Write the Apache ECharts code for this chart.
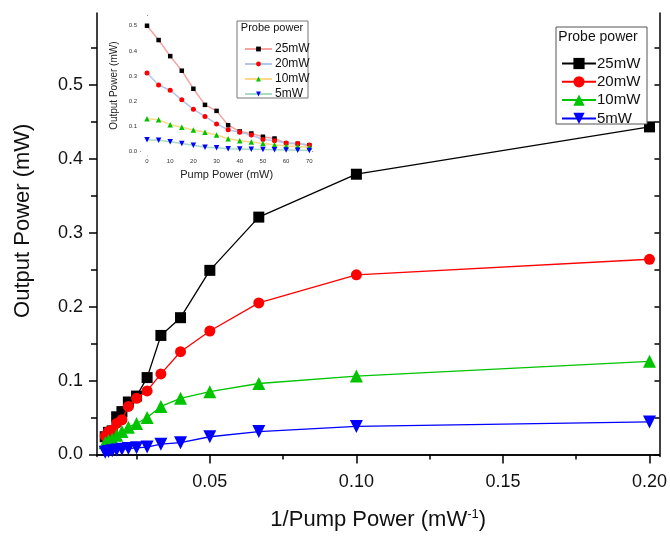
<!DOCTYPE html>
<html>
<head>
<meta charset="utf-8">
<script src="https://cdn.jsdelivr.net/npm/echarts@6/dist/echarts.min.js"></script>
<style>
  html, body { margin: 0; padding: 0; background: #fff; }
  #chart { width: 670px; height: 536px; }
</style>
</head>
<body>
<div id="chart"></div>
<script>
// Pump power settings (mW) and the matching inverse pump power (mW^-1) for P = 5..70
const pumpPower = [0, 5, 10, 15, 20, 25, 30, 35, 40, 45, 50, 55, 60, 65, 70];
const invPump = [0.2, 0.1, 0.0667, 0.05, 0.04, 0.0333, 0.0286, 0.025, 0.0222, 0.02, 0.0182, 0.0167, 0.0154, 0.0143];

// Output power (mW) at each pump power, one array per probe power
const out25 = [0.500, 0.443, 0.379, 0.321, 0.249, 0.185, 0.161, 0.104, 0.079, 0.071, 0.058, 0.051, 0.032, 0.030, 0.024];
const out20 = [0.312, 0.264, 0.243, 0.205, 0.167, 0.139, 0.109, 0.086, 0.076, 0.065, 0.047, 0.042, 0.033, 0.031, 0.025];
const out10 = [0.130, 0.126, 0.106, 0.096, 0.085, 0.076, 0.065, 0.050, 0.042, 0.037, 0.031, 0.026, 0.021, 0.019, 0.016];
const out5  = [0.046, 0.044, 0.038, 0.031, 0.024, 0.016, 0.014, 0.010, 0.009, 0.008, 0.007, 0.006, 0.005, 0.004, 0.003];

const probeNames = ['25mW', '20mW', '10mW', '5mW'];
const xMajor = [0.05, 0.10, 0.15, 0.20];
const xMinor = [0.025, 0.075, 0.125, 0.175];
const yMajor = [0.0, 0.1, 0.2, 0.3, 0.4, 0.5];
const yMinor = [0.05, 0.15, 0.25, 0.35, 0.45, 0.55];
const insetXTicks = [0, 5, 10, 15, 20, 25, 30, 35, 40, 45, 50, 55, 60, 65, 70];
const insetXLabels = [0, 10, 20, 30, 40, 50, 60, 70];
const insetYTicks = [0, 0.05, 0.1, 0.15, 0.2, 0.25, 0.3, 0.35, 0.4, 0.45, 0.5];
const insetYLabels = [0, 0.1, 0.2, 0.3, 0.4, 0.5];

const FONT = 'Liberation Sans, Arial, sans-serif';
const outputs = [out25, out20, out10, out5];
const markColors = ['#000000', '#ff0000', '#00c400', '#0000ff'];
const insetLineColors = ['#f5a3a3', '#b3c6ea', '#fdd78c', '#a6dcc6'];
const symbols = ['rect', 'circle', 'triangle', 'triangle'];
const rotations = [0, 0, 0, 180];
const mainSizes = [11, 11, 13, 13];
const insetSizes = [4.5, 5, 5.5, 5.5];

const chart = echarts.init(document.getElementById('chart'), null, { renderer: 'canvas' });

const series = [];
// Main plot: output power against inverse pump power (P = 5..70 mW)
probeNames.forEach((name, k) => {
  series.push({
    name: name,
    type: 'line',
    xAxisIndex: 0,
    yAxisIndex: 0,
    data: invPump.map((x, i) => [x, outputs[k][i + 1]]),
    symbol: symbols[k],
    symbolRotate: rotations[k],
    symbolSize: mainSizes[k],
    lineStyle: { color: markColors[k], width: 1.3 },
    itemStyle: { color: markColors[k] },
    z: 3 + k
  });
});
// Inset: the same measurements against pump power
probeNames.forEach((name, k) => {
  series.push({
    name: 'inset ' + name,
    type: 'line',
    xAxisIndex: 3,
    yAxisIndex: 3,
    data: pumpPower.map((p, i) => [p, outputs[k][i]]),
    symbol: symbols[k],
    symbolRotate: rotations[k],
    symbolSize: insetSizes[k],
    lineStyle: { color: insetLineColors[k], width: 1.5 },
    itemStyle: { color: markColors[k] },
    z: 12 + k
  });
});

const frame = { show: true, lineStyle: { color: '#000', width: 1.5 } };
const insetFrame = { show: true, lineStyle: { color: '#555', width: 1 } };

const option = {
  animation: false,
  backgroundColor: '#fff',
  textStyle: { fontFamily: FONT },
  grid: [
    { left: 97, top: 13, right: 10, bottom: 73 },
    { left: 141, top: 15.7, width: 171.3, height: 140, show: true, backgroundColor: '#fff', borderWidth: 0, z: 10 }
  ],
  xAxis: [
    {
      type: 'value', gridIndex: 0, position: 'bottom', min: 0.0115, max: 0.2034,
      axisLine: frame,
      axisTick: { show: true, customValues: xMajor, length: 9, lineStyle: { color: '#000', width: 1.5 } },
      axisLabel: { customValues: xMajor, formatter: v => v.toFixed(2), fontSize: 18, color: '#111', margin: 17, fontFamily: FONT },
      splitLine: { show: false },
      name: '1/Pump Power (mW{sup|-1})',
      nameLocation: 'middle', nameGap: 51,
      nameTextStyle: {
        fontSize: 22, color: '#111', fontFamily: FONT,
        rich: { sup: { fontSize: 13, color: '#111', fontFamily: FONT, verticalAlign: 'top', padding: [0, 0, 12, 0] } }
      }
    },
    {
      type: 'value', gridIndex: 0, position: 'bottom', min: 0.0115, max: 0.2034,
      axisLine: { show: false },
      axisTick: { show: true, customValues: xMinor, length: 5, lineStyle: { color: '#000', width: 1.5 } },
      axisLabel: { show: false }, splitLine: { show: false }
    },
    {
      type: 'value', gridIndex: 0, position: 'top', min: 0.0115, max: 0.2034,
      axisLine: frame,
      axisTick: { show: true, inside: true, customValues: xMajor.concat(xMinor), length: 5, lineStyle: { color: '#000', width: 1.5 } },
      axisLabel: { show: false }, splitLine: { show: false }
    },
    {
      type: 'value', gridIndex: 1, position: 'bottom', min: -2.6, max: 71.3,
      axisLine: insetFrame,
      axisTick: { show: true, customValues: insetXTicks, length: 2, lineStyle: { color: '#555' } },
      axisLabel: { customValues: insetXLabels, fontSize: 6, color: '#333', margin: 3, fontFamily: FONT },
      splitLine: { show: false },
      name: 'Pump Power (mW)', nameLocation: 'middle', nameGap: 14,
      nameTextStyle: { fontSize: 11, color: '#222', fontFamily: FONT }
    },
    {
      type: 'value', gridIndex: 1, position: 'top', min: -2.6, max: 71.3,
      axisLine: insetFrame,
      axisTick: { show: true, inside: true, customValues: insetXTicks, length: 2, lineStyle: { color: '#555' } },
      axisLabel: { show: false }, splitLine: { show: false }
    }
  ],
  yAxis: [
    {
      type: 'value', gridIndex: 0, position: 'left', min: -0.0027, max: 0.597,
      axisLine: frame,
      axisTick: { show: true, customValues: yMajor, length: 8, lineStyle: { color: '#000', width: 1.5 } },
      axisLabel: { customValues: yMajor, formatter: v => v.toFixed(1), fontSize: 18, color: '#111', margin: 14, fontFamily: FONT },
      splitLine: { show: false },
      name: 'Output Power (mW)', nameLocation: 'middle', nameGap: 63, nameRotate: 90,
      nameTextStyle: { fontSize: 22, color: '#111', fontFamily: FONT, padding: [0, 0, 0, 28] }
    },
    {
      type: 'value', gridIndex: 0, position: 'left', min: -0.0027, max: 0.597,
      axisLine: { show: false },
      axisTick: { show: true, customValues: yMinor, length: 6, lineStyle: { color: '#000', width: 1.5 } },
      axisLabel: { show: false }, splitLine: { show: false }
    },
    {
      type: 'value', gridIndex: 0, position: 'right', min: -0.0027, max: 0.597,
      axisLine: frame,
      axisTick: { show: true, inside: true, customValues: yMajor.concat(yMinor), length: 5, lineStyle: { color: '#000', width: 1.5 } },
      axisLabel: { show: false }, splitLine: { show: false }
    },
    {
      type: 'value', gridIndex: 1, position: 'left', min: -0.0175, max: 0.54,
      axisLine: insetFrame,
      axisTick: { show: true, customValues: insetYTicks, length: 2, lineStyle: { color: '#555' } },
      axisLabel: { customValues: insetYLabels, formatter: v => v.toFixed(1), fontSize: 6, color: '#333', margin: 4, fontFamily: FONT },
      splitLine: { show: false },
      name: 'Output Power (mW)', nameLocation: 'middle', nameGap: 22, nameRotate: 90,
      nameTextStyle: { fontSize: 10, color: '#222', fontFamily: FONT }
    },
    {
      type: 'value', gridIndex: 1, position: 'right', min: -0.0175, max: 0.54,
      axisLine: insetFrame,
      axisTick: { show: true, inside: true, customValues: insetYTicks, length: 2, lineStyle: { color: '#555' } },
      axisLabel: { show: false }, splitLine: { show: false }
    }
  ],
  legend: [
    {
      data: probeNames,
      orient: 'vertical', left: 556, top: 51,
      itemWidth: 34, itemHeight: 14, itemGap: 3.3,
      selectedMode: false,
      textStyle: { fontSize: 15, color: '#111', fontFamily: FONT, padding: [0, 0, 0, -4] },
      z: 20
    },
    {
      data: probeNames.map(n => 'inset ' + n),
      formatter: n => n.replace('inset ', ''),
      orient: 'vertical', left: 239, top: 38,
      itemWidth: 27, itemHeight: 6, itemGap: 3,
      selectedMode: false,
      textStyle: { fontSize: 12, color: '#111', fontFamily: FONT, padding: [0, 0, 0, -2] },
      z: 20
    }
  ],
  graphic: [
    { type: 'rect', z: 15, shape: { x: 556, y: 27, width: 91, height: 97 }, style: { fill: '#fff', stroke: '#555', lineWidth: 1 } },
    { type: 'text', z: 16, x: 598, y: 37, style: { text: 'Probe power', font: '14px ' + FONT, fill: '#111', align: 'center', verticalAlign: 'middle' } },
    { type: 'rect', z: 15, shape: { x: 237, y: 21, width: 71, height: 77 }, style: { fill: '#fff', stroke: '#777', lineWidth: 1 } },
    { type: 'text', z: 16, x: 272, y: 28, style: { text: 'Probe power', font: '11px ' + FONT, fill: '#111', align: 'center', verticalAlign: 'middle' } }
  ],
  series: series
};

chart.setOption(option);
</script>
</body>
</html>
